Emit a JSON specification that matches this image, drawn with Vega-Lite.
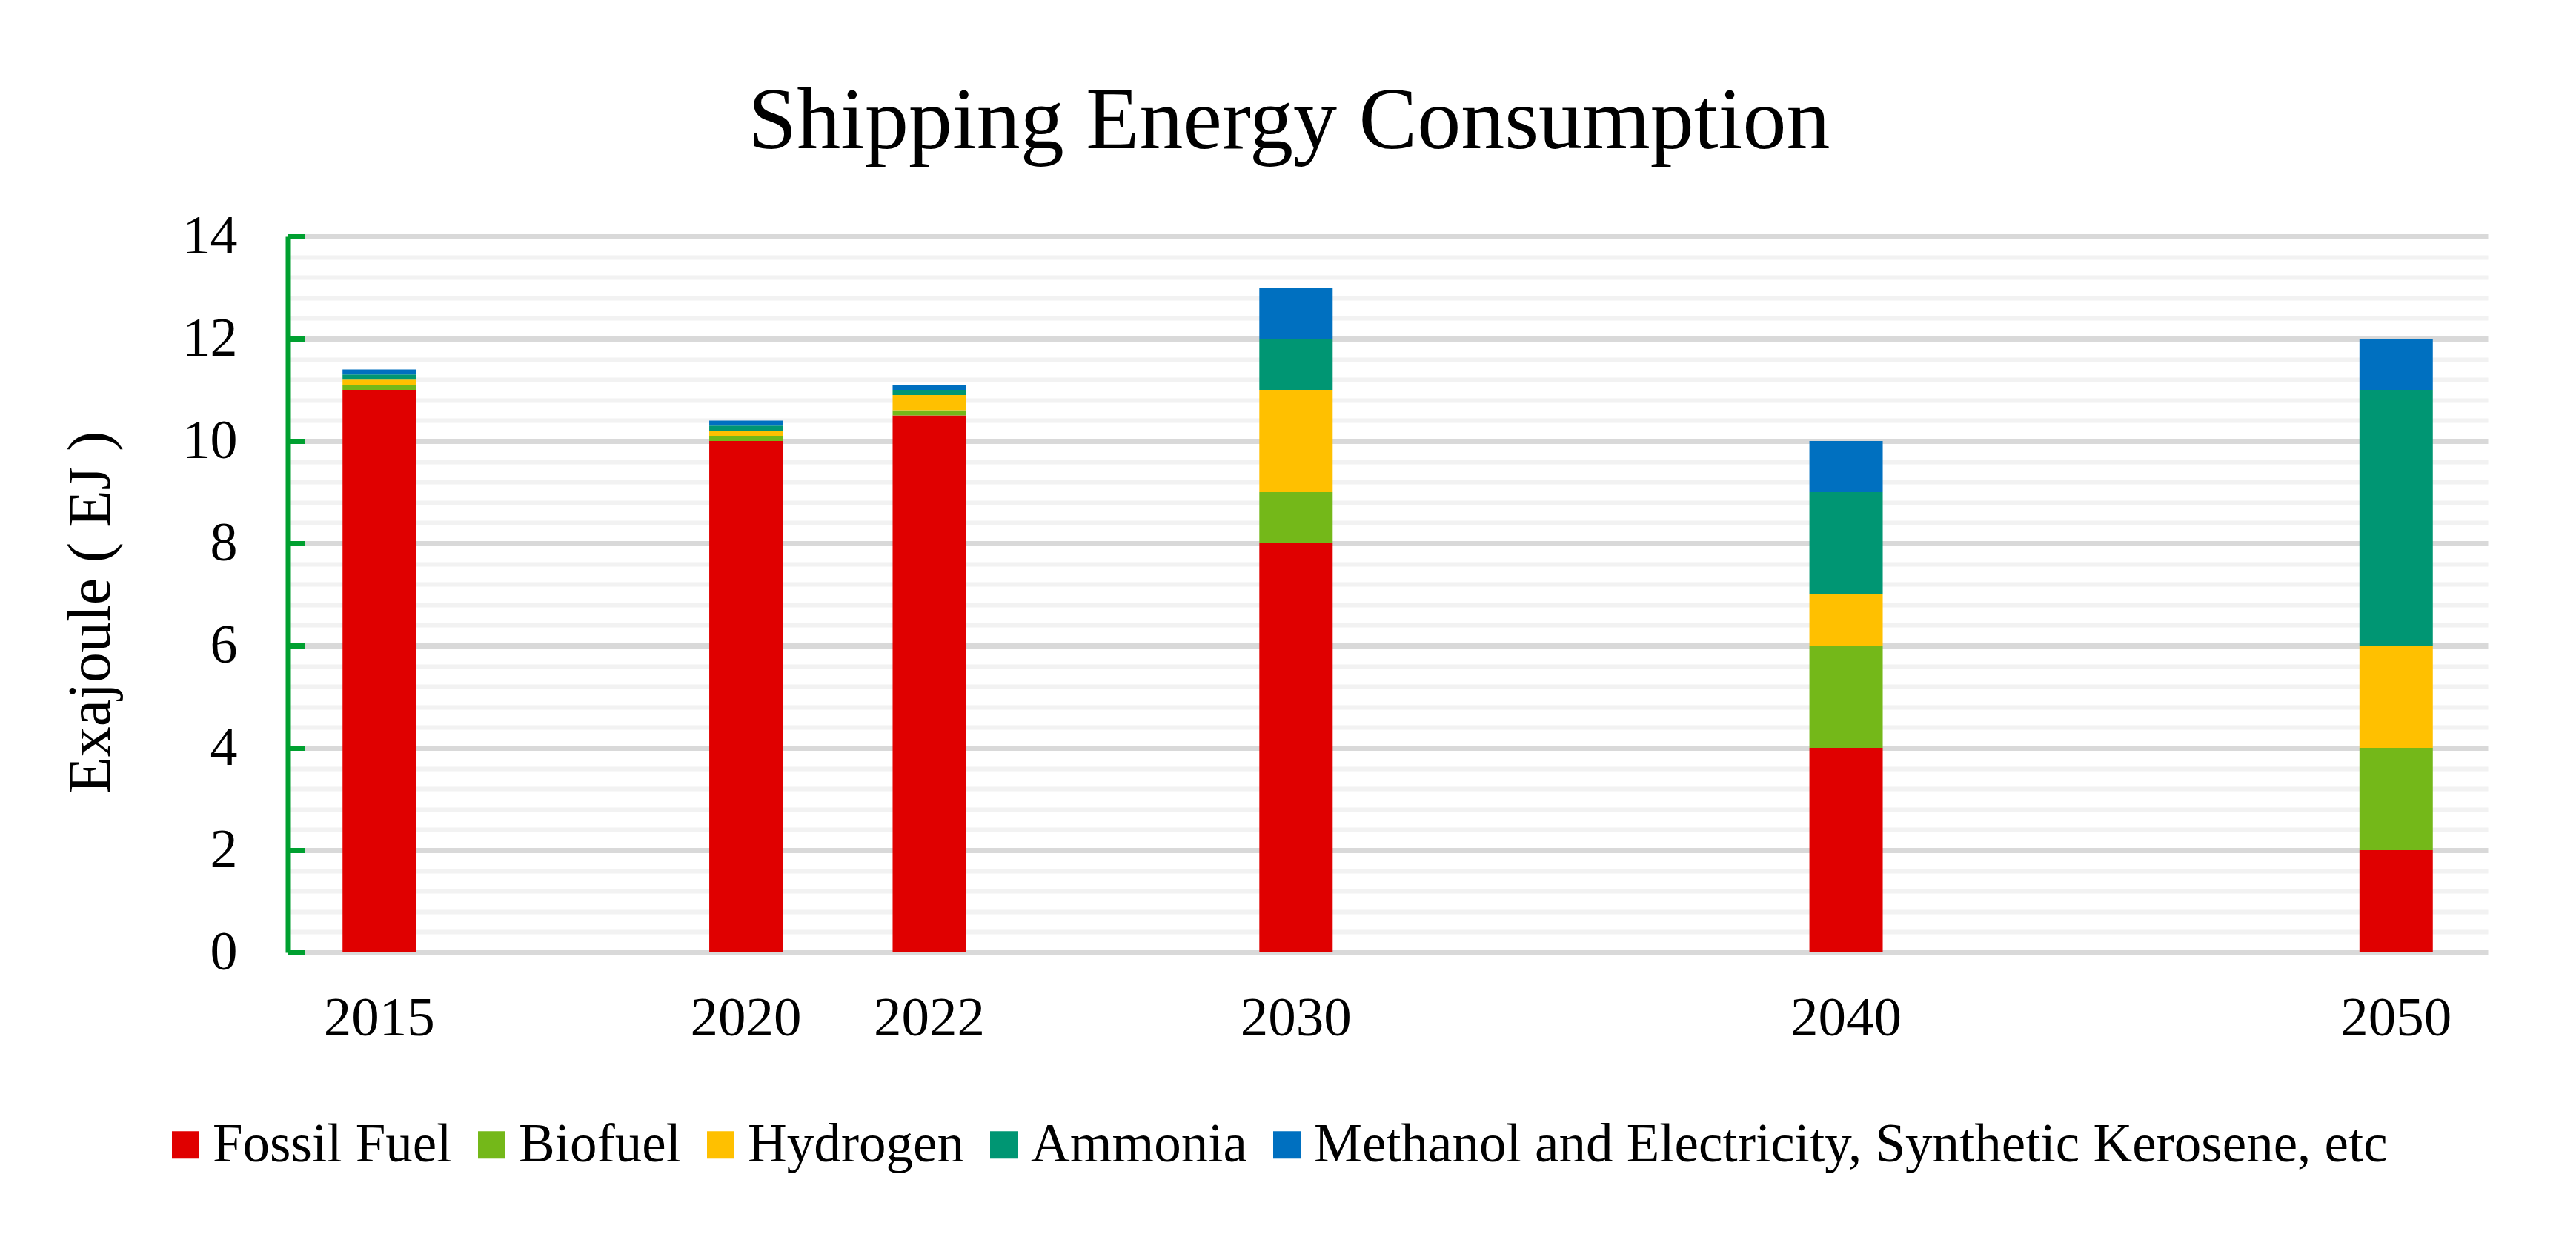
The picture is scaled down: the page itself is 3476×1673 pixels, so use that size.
{
  "$schema": "https://vega.github.io/schema/vega-lite/v6.json",
  "width": 2969,
  "height": 966,
  "autosize": {"type": "none"},
  "padding": {"left": 388, "top": 319, "right": 119, "bottom": 388},
  "background": "white",
  "title": {
    "text": "Shipping Energy Consumption",
    "font": "Liberation Serif",
    "fontSize": 118,
    "fontWeight": "normal",
    "color": "#000000",
    "anchor": "middle",
    "baseline": "alphabetic",
    "offset": -36,
    "dx": -133
  },
  "config": {"view": {"stroke": null}},
  "data": {
    "values": [
      {"year": "2015", "source": "Fossil Fuel", "value": 11},
      {"year": "2015", "source": "Biofuel", "value": 0.1},
      {"year": "2015", "source": "Hydrogen", "value": 0.1},
      {"year": "2015", "source": "Ammonia", "value": 0.1},
      {"year": "2015", "source": "Methanol and Electricity, Synthetic Kerosene, etc", "value": 0.1},
      {"year": "2020", "source": "Fossil Fuel", "value": 10},
      {"year": "2020", "source": "Biofuel", "value": 0.1},
      {"year": "2020", "source": "Hydrogen", "value": 0.1},
      {"year": "2020", "source": "Ammonia", "value": 0.1},
      {"year": "2020", "source": "Methanol and Electricity, Synthetic Kerosene, etc", "value": 0.1},
      {"year": "2022", "source": "Fossil Fuel", "value": 10.5},
      {"year": "2022", "source": "Biofuel", "value": 0.1},
      {"year": "2022", "source": "Hydrogen", "value": 0.3},
      {"year": "2022", "source": "Ammonia", "value": 0.1},
      {"year": "2022", "source": "Methanol and Electricity, Synthetic Kerosene, etc", "value": 0.1},
      {"year": "2030", "source": "Fossil Fuel", "value": 8},
      {"year": "2030", "source": "Biofuel", "value": 1},
      {"year": "2030", "source": "Hydrogen", "value": 2},
      {"year": "2030", "source": "Ammonia", "value": 1},
      {"year": "2030", "source": "Methanol and Electricity, Synthetic Kerosene, etc", "value": 1},
      {"year": "2040", "source": "Fossil Fuel", "value": 4},
      {"year": "2040", "source": "Biofuel", "value": 2},
      {"year": "2040", "source": "Hydrogen", "value": 1},
      {"year": "2040", "source": "Ammonia", "value": 2},
      {"year": "2040", "source": "Methanol and Electricity, Synthetic Kerosene, etc", "value": 1},
      {"year": "2050", "source": "Fossil Fuel", "value": 2},
      {"year": "2050", "source": "Biofuel", "value": 2},
      {"year": "2050", "source": "Hydrogen", "value": 2},
      {"year": "2050", "source": "Ammonia", "value": 5},
      {"year": "2050", "source": "Methanol and Electricity, Synthetic Kerosene, etc", "value": 1}
    ]
  },
  "transform": [
    {"calculate": "indexof(['Fossil Fuel', 'Biofuel', 'Hydrogen', 'Ammonia', 'Methanol and Electricity, Synthetic Kerosene, etc'], datum.source)", "as": "stackOrder"}
  ],
  "layer": [
    {
      "mark": {"type": "bar", "opacity": 0},
      "encoding": {
        "x": {
          "field": "year",
          "type": "nominal",
          "scale": {"domain": ["2015", " ", "2020", "2022", "  ", "2030", "   ", "    ", "2040", "     ", "      ", "2050"], "paddingInner": 0.6, "paddingOuter": 0.3},
          "axis": {"title": null, "labelFont": "Liberation Serif", "labelFontSize": 75, "labelColor": "#000000", "labelPadding": 52, "labelAngle": 0, "ticks": false, "domain": false}
        },
        "y": {
          "field": "value",
          "type": "quantitative",
          "stack": "zero",
          "scale": {"domain": [0, 14], "nice": false},
          "axis": {
            "orient": "right",
            "title": null,
            "labels": false,
            "ticks": false,
            "domain": false,
            "grid": true,
            "gridColor": "#f2f2f2",
            "gridWidth": 6,
            "values": [0.4, 0.8, 1.2, 1.6, 2.4, 2.8, 3.2, 3.6, 4.4, 4.8, 5.2, 5.6, 6.4, 6.8, 7.2, 7.6, 8.4, 8.8, 9.2, 9.6, 10.4, 10.8, 11.2, 11.6, 12.4, 12.8, 13.2, 13.6]
          }
        }
      }
    },
    {
      "mark": {"type": "bar"},
      "encoding": {
        "x": {
          "field": "year",
          "type": "nominal",
          "scale": {"domain": ["2015", " ", "2020", "2022", "  ", "2030", "   ", "    ", "2040", "     ", "      ", "2050"], "paddingInner": 0.6, "paddingOuter": 0.3},
          "axis": {"title": null, "labelFont": "Liberation Serif", "labelFontSize": 75, "labelColor": "#000000", "labelPadding": 52, "labelAngle": 0, "ticks": false, "domain": false}
        },
        "y": {
          "field": "value",
          "type": "quantitative",
          "stack": "zero",
          "scale": {"domain": [0, 14], "nice": false},
          "axis": {
            "title": "Exajoule ( EJ )",
            "values": [0, 2, 4, 6, 8, 10, 12, 14],
            "grid": true,
            "gridColor": "#d9d9d9",
            "gridWidth": 7,
            "domainColor": "#00A030",
            "domainWidth": 6,
            "tickColor": "#00A030",
            "tickWidth": 7,
            "tickSize": -23,
            "labelFont": "Liberation Serif",
            "labelFontSize": 74,
            "labelColor": "#000000",
            "labelPadding": 91,
            "titleFont": "Liberation Serif",
            "titleFontSize": 82,
            "titleFontWeight": "normal",
            "titleColor": "#000000",
            "titlePadding": 82,
            "titleY": 507
          }
        },
        "order": {"field": "stackOrder", "type": "quantitative", "sort": "ascending"},
        "color": {
          "field": "source",
          "type": "nominal",
          "sort": ["Fossil Fuel", "Biofuel", "Hydrogen", "Ammonia", "Methanol and Electricity, Synthetic Kerosene, etc"],
          "scale": {
            "domain": ["Fossil Fuel", "Biofuel", "Hydrogen", "Ammonia", "Methanol and Electricity, Synthetic Kerosene, etc"],
            "range": ["#E00000", "#74B819", "#FFC000", "#009673", "#0070C0"]
          },
          "legend": {
            "title": null,
            "orient": "none",
            "legendX": -174,
            "legendY": 1189,
            "direction": "horizontal",
            "symbolType": "square",
            "symbolSize": 1369,
            "symbolStrokeWidth": 0,
            "labelFont": "Liberation Serif",
            "labelFontSize": 73,
            "labelColor": "#000000",
            "labelOffset": 0,
            "columnPadding": 17,
            "padding": 0,
            "labelLimit": 3000,
            "labelExpr": "indexof(datum.label, 'Methanol') == 0 ? '\u00a0' + datum.label : datum.label"
          }
        }
      }
    }
  ],
  "resolve": {"axis": {"y": "independent"}}
}
